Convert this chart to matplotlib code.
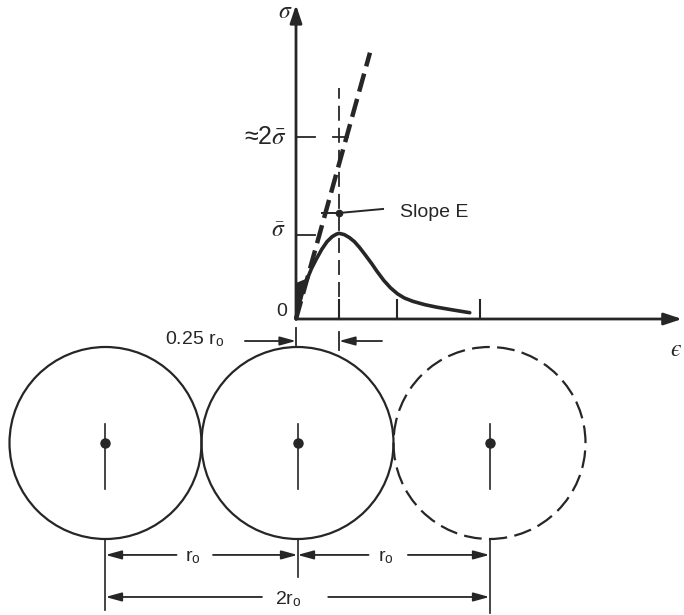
import matplotlib.pyplot as plt
from matplotlib.patches import Circle, Polygon

plt.rcParams['font.family'] = ['Liberation Sans', 'DejaVu Sans']
plt.rcParams['mathtext.fontset'] = 'stix'

INK = '#262626'

# stress-strain curve: strain in units of r_o, stress in units of sigma-bar
strain = [0.0, 0.015, 0.035, 0.06, 0.09, 0.12, 0.15, 0.18, 0.21, 0.235, 0.25,
          0.28, 0.31, 0.34, 0.37, 0.40, 0.44, 0.47, 0.51, 0.55, 0.59, 0.63,
          0.68, 0.75, 0.82, 0.92, 1.01]
stress = [0.0, 0.15, 0.30, 0.45, 0.60, 0.72, 0.83, 0.92, 0.98, 1.01, 1.02,
          1.005, 0.97, 0.92, 0.85, 0.77, 0.66, 0.57, 0.46, 0.37, 0.30, 0.25,
          0.21, 0.17, 0.14, 0.105, 0.075]

# tangent line "Slope E"
slope_strain = [0.0, 0.43]
slope_stress = [0.0, 3.17]

peak_strain = 0.25
strain_ticks = [0.25, 0.59, 1.07]
sigma_bar = 1.0
two_sigma = 2.17
slope_point = (0.25, 1.262)

# atoms: centres in units of r_o, diameter r_o
atom_x = [0, 1, 2]
atom_dashed = [False, False, True]
atom_radius = 0.5

fig = plt.figure(figsize=(6.84, 6.15), dpi=100)

# lower drawing (atoms), units of r_o, 192 px per r_o
ax = fig.add_axes([0, 0, 1, 1])
ax.set_xlim(-105.5 / 192, 578.5 / 192)
ax.set_ylim(-172 / 192, 443 / 192)
ax.axis('off')

# graph axes, origin at the stress-strain origin
gx = fig.add_axes([296 / 684, (615 - 319) / 615, 388 / 684, 319 / 615])
gx.set_xlim(0, 388 / 172)
gx.set_ylim(0, 319 / 84)
gx.axis('off')


def arrow(axis, x0, y0, x1, y1, lw=1.3, hl=0.8, hw=0.22, ms=12):
    axis.annotate('', xy=(x1, y1), xytext=(x0, y0),
                  arrowprops=dict(arrowstyle=f'-|>,head_length={hl},head_width={hw}',
                                  color=INK, lw=lw, shrinkA=0, shrinkB=0,
                                  mutation_scale=ms),
                  annotation_clip=False)


# axes with arrows
arrow(gx, 0, 0, 0, 3.74, lw=2, hl=0.9, hw=0.3)
arrow(gx, 0, 0, 2.244, 0, lw=2, hl=0.9, hw=0.3)
gx.text(-0.064, 3.65, r'$\sigma$', fontsize=17, color=INK, ha='center', va='center')
gx.text(2.21, -0.37, '$\u03f5$', fontsize=17, color=INK, ha='center', va='center')
gx.text(-0.05, 0.09, '0', fontsize=14, color=INK, ha='right', va='center')

# y ticks
for yv in [sigma_bar, two_sigma]:
    gx.plot([0, 0.11], [yv, yv], color=INK, lw=1.3, clip_on=False)
gx.plot([0.215, 0.3], [two_sigma, two_sigma], color=INK, lw=1.3, clip_on=False)
gx.text(-0.06, sigma_bar + 0.05, r'$\bar{\sigma}$', fontsize=17, color=INK, ha='right', va='center')
gx.text(-0.05, two_sigma, '\u22482' + r'$\bar{\sigma}$', fontsize=18, color=INK,
        ha='right', va='center')

# x ticks
for xv in strain_ticks:
    gx.plot([xv, xv], [0, 0.23], color=INK, lw=1.5, clip_on=False)

# vertical dashed line through the peak
gx.plot([peak_strain, peak_strain], [0, 2.75], color=INK, lw=1.3,
        dashes=(8.3, 3.9), clip_on=False)

# tangent line
gx.plot(slope_strain, slope_stress, color=INK, lw=3.2, dashes=(4.2, 1.7),
        clip_on=False)

# stress-strain curve
gx.plot(strain, stress, color=INK, lw=2.6, solid_joinstyle='round',
        solid_capstyle='round', clip_on=False)
gx.add_patch(Polygon([(0, 0.02), (0, 0.42), (0.06, 0.47), (0.03, 0.22)],
                     closed=True, color=INK, clip_on=False))

# Slope E leader
gx.plot([0.151, slope_point[0], 0.506], [slope_point[1], slope_point[1], 1.31],
        color=INK, lw=1.4, clip_on=False)
gx.plot(*slope_point, 'o', color=INK, ms=4.5, clip_on=False)
gx.text(0.605, 1.262, 'Slope E', fontsize=14, color=INK, ha='left', va='center')

# 0.25 r_o marker
for xv, y0, y1 in [(0, -0.107, -0.31), (peak_strain, -0.15, -0.37)]:
    gx.plot([xv, xv], [y0, y1], color=INK, lw=1.3, clip_on=False)
arrow(gx, -0.297, -0.262, 0, -0.262)
arrow(gx, 0.5, -0.262, peak_strain, -0.262)
gx.text(-0.42, -0.235, r'0.25 r$_{\mathregular{o}}$', fontsize=14, color=INK,
        ha='right', va='center')

# atoms
for cx, dashed in zip(atom_x, atom_dashed):
    c = Circle((cx, 0), atom_radius, fill=False, ec=INK, lw=1.6)
    if dashed:
        c.set_linestyle((0, (8, 3.3)))
    ax.add_patch(c)
    ax.plot([cx, cx], [0.1, -0.24], color=INK, lw=1.2)
    ax.plot(cx, 0, 'o', color=INK, ms=6.5)

# extension lines
for cx, y1 in zip(atom_x, [-0.87, -0.70, -0.885]):
    ax.plot([cx, cx], [-0.5, y1], color=INK, lw=1.2)

# r_o dimensions
y_r = -0.583
arrow(ax, 0.37, y_r, 0.0, y_r)
arrow(ax, 0.56, y_r, 1.0, y_r)
ax.text(0.455, y_r - 0.01, r'r$_{\mathregular{o}}$', fontsize=14, color=INK,
        ha='center', va='center')
arrow(ax, 1.37, y_r, 1.0, y_r)
arrow(ax, 1.575, y_r, 2.0, y_r)
ax.text(1.46, y_r - 0.01, r'r$_{\mathregular{o}}$', fontsize=14, color=INK,
        ha='center', va='center')

# 2 r_o dimension
y_2r = -0.802
arrow(ax, 0.815, y_2r, 0.0, y_2r)
arrow(ax, 1.16, y_2r, 2.0, y_2r)
ax.text(0.95, y_2r - 0.01, r'2r$_{\mathregular{o}}$', fontsize=14, color=INK,
        ha='center', va='center')

fig.savefig('out.png', dpi=100, facecolor='white')
